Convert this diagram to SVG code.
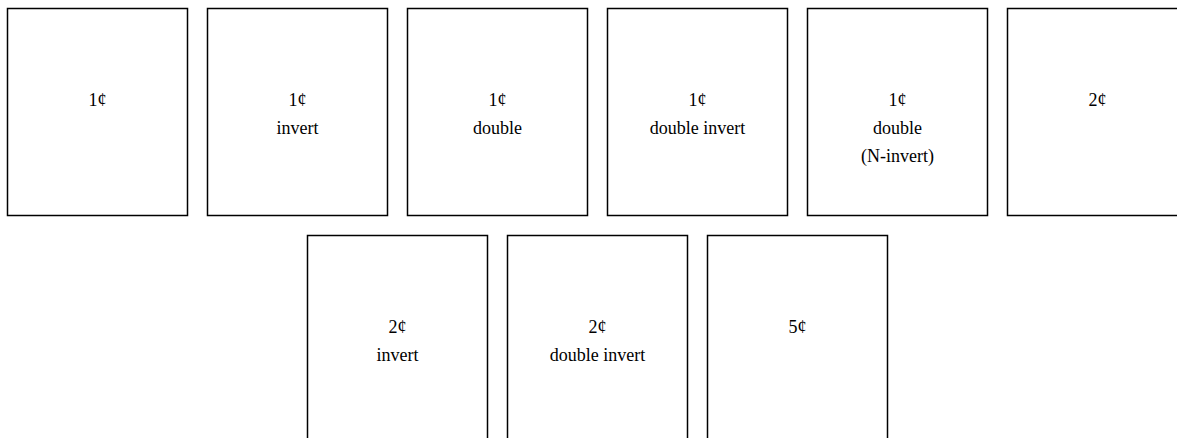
<svg xmlns="http://www.w3.org/2000/svg" width="1177" height="438" viewBox="0 0 1177 438">
<style>
.box{fill:#fff;stroke:#000;stroke-width:1.5}
.t{font-family:"Liberation Serif","Times New Roman",serif;font-size:18px;fill:#000;text-anchor:middle}
</style>
<rect width="1177" height="438" fill="#fff"/>
<g id="n1"><rect class="box" x="7.5" y="8.5" width="180" height="207"/><text class="t" x="97.5" y="106">1¢</text></g>
<g id="n2"><rect class="box" x="207.5" y="8.5" width="180" height="207"/><text class="t" x="297.5" y="106">1¢<tspan x="297.5" dy="28">invert</tspan></text></g>
<g id="n3"><rect class="box" x="407.5" y="8.5" width="180" height="207"/><text class="t" x="497.5" y="106">1¢<tspan x="497.5" dy="28">double</tspan></text></g>
<g id="n4"><rect class="box" x="607.5" y="8.5" width="180" height="207"/><text class="t" x="697.5" y="106">1¢<tspan x="697.5" dy="28">double invert</tspan></text></g>
<g id="n5"><rect class="box" x="807.5" y="8.5" width="180" height="207"/><text class="t" x="897.5" y="106">1¢<tspan x="897.5" dy="28">double</tspan><tspan x="897.5" dy="28">(N-invert)</tspan></text></g>
<g id="n6"><rect class="box" x="1007.5" y="8.5" width="180" height="207"/><text class="t" x="1097.5" y="106">2¢</text></g>
<g id="n7"><rect class="box" x="307.5" y="235.5" width="180" height="207"/><text class="t" x="397.5" y="333">2¢<tspan x="397.5" dy="28">invert</tspan></text></g>
<g id="n8"><rect class="box" x="507.5" y="235.5" width="180" height="207"/><text class="t" x="597.5" y="333">2¢<tspan x="597.5" dy="28">double invert</tspan></text></g>
<g id="n9"><rect class="box" x="707.5" y="235.5" width="180" height="207"/><text class="t" x="797.5" y="333">5¢</text></g>
<g id="connectors"></g>
</svg>
